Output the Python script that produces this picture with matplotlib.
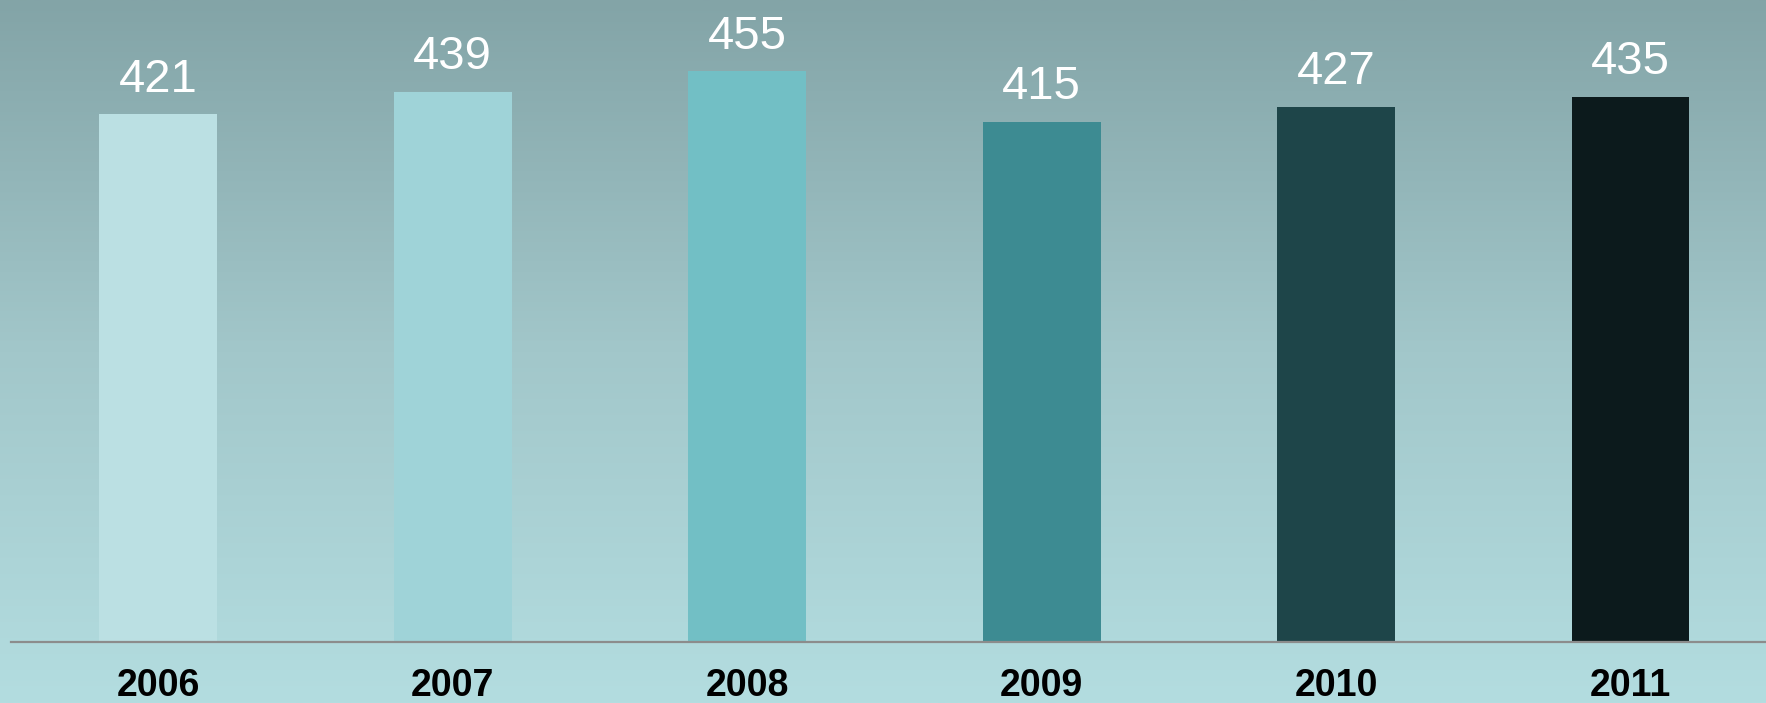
"""
Bar chart of yearly totals 2006-2011 on a teal gradient background.
"""

import matplotlib

matplotlib.use("Agg")
import matplotlib.pyplot as plt
import numpy as np
from matplotlib.colors import LinearSegmentedColormap

years = ["2006", "2007", "2008", "2009", "2010", "2011"]
values = [421, 439, 455, 415, 427, 435]

bar_colors = ["#bbe0e3", "#9fd3d8", "#72bfc5", "#3d8b92", "#1e4549", "#0c1a1c"]

plt.rcParams["font.family"] = ["Liberation Sans", "DejaVu Sans"]

W, H = 1766, 703
fig = plt.figure(figsize=(W / 100, H / 100), dpi=100)

# background: vertical gradient, grey-teal at top to pale cyan at bottom
bg = fig.add_axes([0, 0, 1, 1], zorder=0)
grad = np.linspace(0, 1, 256).reshape(-1, 1)
cmap = LinearSegmentedColormap.from_list("bg", ["#83a4a7", "#a2c7ca", "#b3dde0"])
bg.imshow(grad, aspect="auto", cmap=cmap, extent=[0, 1, 0, 1], origin="upper")
bg.set_axis_off()

# plot area: from baseline (y=642 px) to the top edge
left, bottom = 11 / W, (H - 642) / H
ax = fig.add_axes([left, bottom, 1 - left, 1 - bottom], zorder=1)
ax.patch.set_alpha(0)

x = np.arange(len(years))
bars = ax.bar(x, values, width=0.40, color=bar_colors, zorder=2)

for xi, v in zip(x, values):
    ax.text(xi, v + 10, str(v), ha="center", va="bottom",
            fontsize=34, color="white")

ax.set_xlim(-0.5, 5.46)
ax.set_ylim(0, 512)

ax.set_xticks(x)
ax.set_xticklabels(years, fontsize=27, fontweight="bold", color="black")
ax.tick_params(axis="x", length=0, pad=19)
ax.set_yticks([])

for side in ["top", "right", "left"]:
    ax.spines[side].set_visible(False)
ax.spines["bottom"].set_color("#8c8c8c")
ax.spines["bottom"].set_linewidth(1.6)

fig.savefig("out.png", dpi=100)
